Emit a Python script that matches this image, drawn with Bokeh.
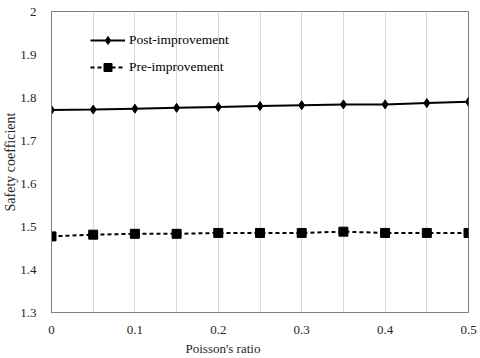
from bokeh.plotting import figure
from bokeh.models import FixedTicker, Legend, LegendItem, Range1d, Title
from bokeh.embed import file_html
from bokeh.resources import INLINE

poisson = [0.0, 0.05, 0.1, 0.15, 0.2, 0.25, 0.3, 0.35, 0.4, 0.45, 0.5]
post_improvement = [1.771, 1.772, 1.774, 1.776, 1.778, 1.780, 1.782, 1.784, 1.784, 1.787, 1.790]
pre_improvement = [1.477, 1.481, 1.483, 1.483, 1.485, 1.485, 1.485, 1.488, 1.485, 1.485, 1.485]
x_ticks = [0.0, 0.1, 0.2, 0.3, 0.4, 0.5]
x_tick_labels = ["0", "0.1", "0.2", "0.3", "0.4", "0.5"]
y_ticks = [1.3, 1.4, 1.5, 1.6, 1.7, 1.8, 1.9, 2.0]
y_tick_labels = ["1.3", "1.4", "1.5", "1.6", "1.7", "1.8", "1.9", "2"]
grid_ticks = [0.05, 0.1, 0.15, 0.2, 0.25, 0.3, 0.35, 0.4, 0.45]
x_title = "Poisson's ratio"
y_title = "Safety coefficient"

FONT = "Liberation Serif"
TXT = "#262626"

p = figure(width=480, height=358, output_backend="svg", toolbar_location=None,
           x_range=Range1d(0, 0.5), y_range=Range1d(1.3, 2.0),
           min_border_left=51, min_border_right=12, min_border_top=11, min_border_bottom=46)

p.outline_line_color = "#7f7f7f"
p.outline_line_width = 1
p.background_fill_color = "white"
p.border_fill_color = "white"

p.ygrid.grid_line_color = None
p.xgrid.ticker = FixedTicker(ticks=grid_ticks)
p.xgrid.grid_line_color = "#d9d9d9"
p.xgrid.grid_line_width = 1

for ax in (p.xaxis[0], p.yaxis[0]):
    ax.axis_line_color = "#7f7f7f"
    ax.major_tick_line_color = None
    ax.minor_tick_line_color = None
    ax.major_label_text_font = FONT
    ax.major_label_text_font_size = "13px"
    ax.major_label_text_color = TXT

p.xaxis.ticker = FixedTicker(ticks=x_ticks)
p.xaxis.major_label_overrides = dict(zip(x_ticks, x_tick_labels))
p.yaxis.ticker = FixedTicker(ticks=y_ticks)
p.yaxis.major_label_overrides = dict(zip(y_ticks, y_tick_labels))
p.xaxis.major_label_standoff = 7
p.yaxis.major_label_standoff = 9

p.add_layout(Title(text=x_title, align="left", offset=134, standoff=4,
                   text_font=FONT, text_font_size="13px", text_font_style="normal",
                   text_color=TXT), "below")
p.add_layout(Title(text=y_title, align="center", standoff=0,
                   text_font=FONT, text_font_size="14px", text_font_style="normal",
                   text_color=TXT), "left")

l1 = p.line(poisson, post_improvement, line_color="black", line_width=2)
m1 = p.scatter(poisson, post_improvement, marker="diamond", size=9, color="black")
l2 = p.line(poisson, pre_improvement, line_color="black", line_width=2, line_dash="4 3")
m2 = p.scatter(poisson, pre_improvement, marker="square", size=9, color="black")

legend = Legend(items=[LegendItem(label="Post-improvement", renderers=[l1, m1]),
                       LegendItem(label="Pre-improvement", renderers=[l2, m2])],
                location=(39, 235), padding=0, margin=0, spacing=7,
                glyph_width=35, glyph_height=20, label_standoff=4,
                border_line_color=None, background_fill_alpha=0,
                label_text_font=FONT, label_text_font_size="13.5px", label_text_color="black")
p.add_layout(legend)

open("out.html", "w").write(file_html(p, INLINE))
